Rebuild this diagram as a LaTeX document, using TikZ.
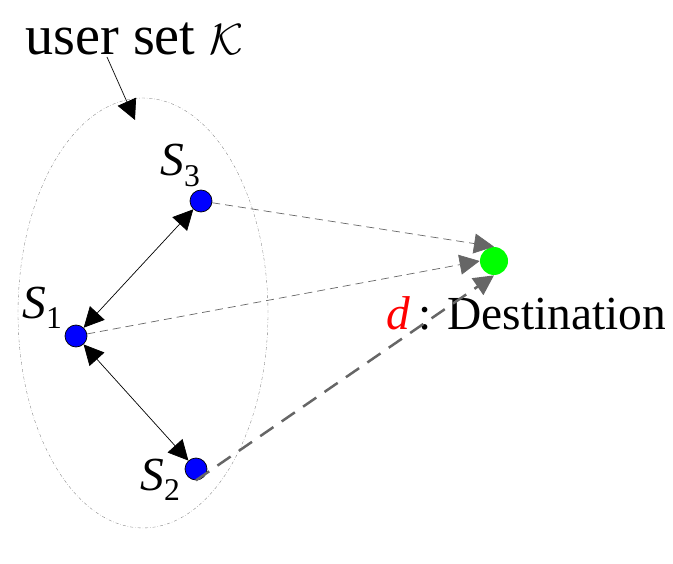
\documentclass[tikz,border=0pt]{standalone}
\usepackage{fontspec}
\setmainfont{Liberation Serif}
\usetikzlibrary{arrows.meta}
\newcommand{\usr}[1]{\textit{S}\raisebox{-6pt}{\fontsize{18}{20}\selectfont #1}}

\begin{document}
\begin{tikzpicture}[x=0.02cm, y=-0.02cm, >={Triangle[length=0.4cm,width=0.4cm]},
    big/.style={font=\fontsize{27}{32}\selectfont, inner sep=0pt},
    user/.style={circle, draw=black, fill=blue, minimum size=0.44cm, inner sep=0pt},
    dest/.style={circle, fill=green, minimum size=0.56cm, inner sep=0pt},
    link/.style={<->, thin},
    fwd/.style={->, draw=black!60, thin, dash pattern=on 0.16cm off 0.1cm},
    fwdbig/.style={->, draw=black!60, line width=0.05cm, dash pattern=on 0.32cm off 0.2cm}]
    \useasboundingbox (0,0) rectangle (673,564);

    \draw[black!50, very thin, dash pattern=on 0.06cm off 0.04cm on 0.01cm off 0.04cm] (143,313) ellipse [x radius=2.5cm, y radius=4.3cm];

    \node[big, font=\fontsize{32}{38}\selectfont, anchor=base west] (title) at (25,55) {user set $\mathcal{K}$};
    \coordinate (ptail) at (107,57);
    \coordinate (ptip) at (135,120);
    \draw[->] (ptail) -- (ptip);

    \node[user] (s3) at (201,201) {};
    \node[user] (s1) at (76,336) {};
    \node[user] (s2) at (196,469) {};
    \node[dest] (d) at (494,261) {};

    \node[big, anchor=base west] (l3) at (160,176) {\usr{3}};
    \node[big, anchor=base west] (l1) at (22,318) {\usr{1}};
    \node[big, anchor=base west] (l2) at (140,490) {\usr{2}};

    \node[big, text=red, anchor=base] (dname) at (398,330) {\textit{d}};
    \node[big, anchor=base west] (dtext) at (418,330) {: Destination};

    \draw[link] (s1) -- (s3);
    \draw[link] (s1) -- (s2);

    \draw[fwd] (s3) -- (d.north);
    \draw[fwd] (s1) -- (d.west);
    \draw[fwdbig] (s2.south) -- (d.south);
\end{tikzpicture}
\end{document}
